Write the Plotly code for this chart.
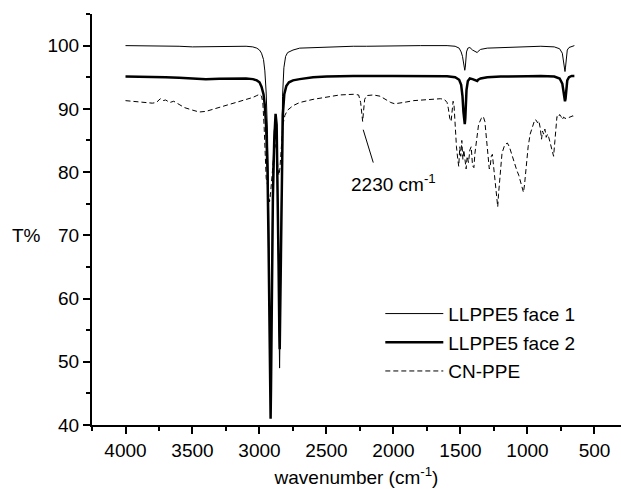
import plotly.graph_objects as go

# ---------------- data ----------------
face1_wn = [4000, 3900, 3800, 3700, 3600, 3500, 3400, 3300, 3200, 3100, 3050, 3020, 3000, 2985,
            2970, 2960, 2950, 2940, 2932, 2925, 2920, 2917, 2914, 2908, 2900, 2890, 2880, 2872,
            2864, 2858, 2852, 2850, 2847, 2842, 2836, 2828, 2818, 2805, 2790, 2750, 2700, 2600,
            2500, 2400, 2300, 2200, 2000, 1800, 1600, 1540, 1510, 1495, 1485, 1478, 1472, 1468,
            1464, 1460, 1455, 1445, 1430, 1410, 1390, 1375, 1368, 1350, 1300, 1200, 1100, 1000,
            900, 800, 760, 740, 730, 724, 720, 716, 710, 703, 690, 670, 650]
face1_t = [100.0, 100.0, 99.95, 100.0, 99.9, 99.8, 99.85, 99.9, 99.95, 99.9, 99.8, 99.6, 99.3, 98.8,
           97.8, 96.0, 92.5, 86.0, 75.0, 60.0, 48.0, 42.5, 48.0, 65.0, 80.0, 86.5, 88.3, 87.0,
           78.0, 65.0, 52.0, 49.0, 54.0, 68.0, 82.0, 92.0, 96.5, 98.3, 98.9, 99.3, 99.6, 99.7,
           99.8, 99.85, 99.9, 99.9, 100.0, 100.0, 100.0, 99.9, 99.6, 99.0, 98.3, 97.3, 96.4, 96.1,
           96.6, 97.8, 99.0, 99.6, 99.7, 99.3, 99.1, 98.9, 99.1, 99.4, 99.6, 99.7, 99.8, 99.85,
           99.9, 99.8, 99.5, 98.8, 97.5, 96.3, 95.9, 96.6, 98.3, 99.3, 99.7, 99.9, 100.0]

face2_wn = [4000, 3900, 3800, 3700, 3600, 3500, 3400, 3300, 3200, 3100, 3050, 3020, 3000, 2985,
            2970, 2960, 2950, 2940, 2932, 2925, 2920, 2917, 2914, 2908, 2900, 2890, 2880, 2872,
            2864, 2858, 2852, 2849, 2846, 2840, 2834, 2826, 2815, 2800, 2780, 2750, 2700, 2600,
            2500, 2300, 2000, 1700, 1600, 1540, 1510, 1495, 1485, 1478, 1472, 1468, 1464, 1460,
            1455, 1445, 1430, 1410, 1390, 1375, 1368, 1350, 1300, 1200, 1000, 900, 800, 760,
            740, 730, 724, 720, 716, 710, 703, 690, 670, 650]
face2_t = [95.1, 95.1, 95.05, 95.0, 94.9, 94.8, 94.7, 94.75, 94.8, 94.8, 94.7, 94.5, 94.2, 93.5,
           92.3, 90.5, 87.0, 80.0, 68.0, 55.0, 45.0, 41.0, 46.0, 62.0, 76.0, 85.0, 89.2, 87.5,
           78.0, 66.0, 55.0, 52.0, 57.0, 70.0, 82.0, 89.0, 92.3, 93.6, 94.2, 94.5, 94.7, 95.0,
           95.1, 95.2, 95.2, 95.2, 95.15, 95.0, 94.6, 93.8, 92.0, 89.5, 88.0, 87.6, 88.5, 90.5,
           93.0, 94.4, 94.8, 94.7, 94.5, 94.4, 94.6, 94.8, 95.0, 95.1, 95.15, 95.2, 95.1, 94.8,
           94.0, 92.5, 91.5, 91.2, 91.6, 93.0, 94.5, 95.0, 95.2, 95.2]

cnppe_wn = [4000, 3950, 3900, 3850, 3800, 3770, 3740, 3720, 3700, 3670, 3640, 3600, 3560, 3500,
            3450, 3400, 3350, 3300, 3250, 3200, 3150, 3100, 3050, 3020, 3000, 2985, 2975, 2965,
            2958, 2950, 2940, 2930, 2925, 2918, 2905, 2890, 2880, 2872, 2862, 2855, 2848, 2838,
            2825, 2810, 2790, 2750, 2700, 2600, 2500, 2400, 2300, 2260, 2245, 2236, 2230, 2224,
            2215, 2200, 2150, 2100, 2060, 2020, 1990, 1950, 1900, 1850, 1800, 1750, 1700, 1650,
            1620, 1600, 1590, 1580, 1570, 1563, 1555, 1548, 1540, 1530, 1520, 1513, 1505, 1498,
            1490, 1482, 1475, 1466, 1458, 1450, 1440, 1430, 1420, 1410, 1400, 1392, 1380, 1365,
            1345, 1330, 1318, 1305, 1295, 1285, 1278, 1270, 1262, 1255, 1245, 1235, 1228, 1222,
            1216, 1205, 1190, 1170, 1150, 1135, 1115, 1095, 1080, 1065, 1050, 1035, 1030, 1022,
            1010, 995, 980, 960, 945, 935, 925, 915, 905, 895, 888, 880, 870, 860, 850, 840, 825,
            812, 805, 795, 787, 780, 770, 760, 750, 740, 730, 720, 706, 690, 675, 660, 655]
cnppe_t = [91.3, 91.2, 91.1, 91.0, 90.9, 91.0, 91.6, 91.3, 91.4, 91.0, 91.2, 90.7, 90.2, 89.8,
           89.5, 89.6, 89.9, 90.3, 90.6, 90.9, 91.2, 91.5, 91.8, 92.1, 92.3, 92.0, 91.0, 87.0,
           82.0, 79.0, 78.0, 76.0, 75.3, 76.5, 80.5, 83.5, 84.5, 83.5, 80.5, 79.5, 80.5, 84.5,
           87.5, 89.0, 89.8, 90.5, 91.0, 91.5, 91.9, 92.2, 92.3, 92.2, 91.0, 88.6, 88.0, 89.5,
           91.5, 92.1, 92.2, 92.0, 91.5, 91.0, 90.8, 90.9, 91.1, 91.3, 91.4, 91.5, 91.5, 91.6,
           91.5, 91.0, 90.0, 88.5, 88.0, 89.5, 91.2, 90.5, 87.0, 84.0, 82.0, 80.9, 84.0, 82.5,
           85.0, 82.0, 83.5, 81.5, 80.5, 82.5, 81.5, 83.5, 84.0, 81.0, 80.7, 83.0, 85.5, 87.5,
           88.5, 88.8, 88.0, 85.0, 82.0, 80.5, 80.9, 82.5, 82.8, 81.5, 79.5, 77.0, 75.5, 74.5,
           76.5, 80.0, 83.0, 84.3, 84.6, 84.0, 82.5, 81.3, 80.3, 79.5, 78.2, 77.0, 76.8, 78.0,
           81.0, 84.0, 86.0, 87.5, 88.3, 88.2, 87.8, 88.1, 87.0, 85.2, 86.5, 86.0, 86.8, 85.5, 86.0, 85.4, 84.0,
           82.8, 82.5, 85.0, 88.0, 88.8, 88.6, 89.1, 88.8, 88.3, 88.7, 88.5, 88.5, 88.6, 88.8, 88.9, 88.7]

names = ["LLPPE5 face 1", "LLPPE5 face 2", "CN-PPE"]
x_ticks = [4000, 3500, 3000, 2500, 2000, 1500, 1000, 500]
y_ticks = [40, 50, 60, 70, 80, 90, 100]
band_label = "2230 cm<sup>-1</sup>"
band_line = ([2226, 2151], [86.7, 81.5])
band_text_pos = (2002, 78.3)

FONT = "Liberation Sans, Arial, sans-serif"

fig = go.Figure()
fig.add_trace(go.Scatter(x=face1_wn, y=face1_t, mode="lines", name=names[0], legendgroup="a",
                         line=dict(color="black", width=1)))
fig.add_trace(go.Scatter(x=face2_wn, y=face2_t, mode="lines", name=names[1], legendgroup="b",
                         line=dict(color="black", width=2.5)))
fig.add_trace(go.Scatter(x=cnppe_wn, y=cnppe_t, mode="lines", name=names[2], legendgroup="c",
                         line=dict(color="black", width=1, dash="5px,3px")))

fig.add_shape(type="line", xref="x", yref="y", x0=band_line[0][0], x1=band_line[0][1],
              y0=band_line[1][0], y1=band_line[1][1], line=dict(color="black", width=1))
fig.add_annotation(x=band_text_pos[0], y=band_text_pos[1], xref="x", yref="y", text=band_label,
                   showarrow=False, font=dict(size=19, color="black", family=FONT))
fig.add_annotation(x=-0.123, y=70, xref="paper", yref="y", text="T%", showarrow=False,
                   xanchor="center", yanchor="middle", font=dict(size=19, color="black", family=FONT))

fig.update_layout(
    width=621, height=489,
    margin=dict(l=92, r=0, t=14, b=64),
    paper_bgcolor="white", plot_bgcolor="white",
    font=dict(family=FONT, size=19, color="black"),
    showlegend=True,
    legend=dict(x=0.545, y=0.317, xanchor="left", yanchor="top", bgcolor="rgba(0,0,0,0)",
                font=dict(size=19, family=FONT), tracegroupgap=1, itemwidth=58),
    xaxis=dict(range=[4250, 302], showline=True, linecolor="black", linewidth=2,
               showgrid=False, zeroline=False, ticks="outside", ticklen=7, tickwidth=1.5,
               tickcolor="black", tickvals=x_ticks, ticktext=[str(v) for v in x_ticks],
               minor=dict(dtick=250, tick0=250, ticks="outside", ticklen=4, tickwidth=1.5, tickcolor="black"),
               title=dict(text="wavenumber (cm<sup>-1</sup>)", font=dict(size=19), standoff=11),
               tickfont=dict(size=19)),
    yaxis=dict(range=[40, 105], showline=True, linecolor="black", linewidth=2,
               showgrid=False, zeroline=False, ticks="outside", ticklen=7, tickwidth=1.5,
               tickcolor="black", tickvals=y_ticks, ticktext=[str(v) for v in y_ticks],
               minor=dict(dtick=5, tick0=0, ticks="outside", ticklen=4, tickwidth=1.5, tickcolor="black"),
               tickfont=dict(size=19)),
)

fig.write_html("out.html", config={"displayModeBar": False})
